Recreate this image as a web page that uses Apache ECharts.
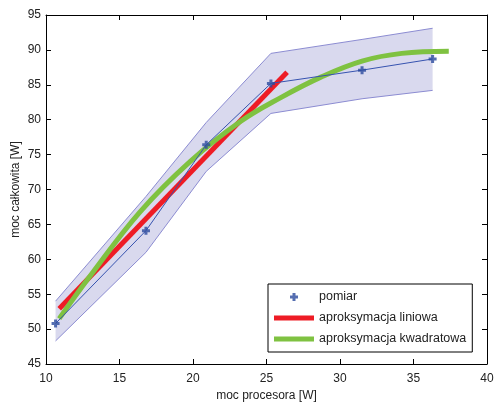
<!DOCTYPE html>
<html>
<head>
<meta charset="utf-8">
<script src="https://cdn.jsdelivr.net/npm/echarts@6/dist/echarts.min.js"></script>
<style>
html,body{margin:0;padding:0;background:#fff;}
#c{width:494px;height:403px;}
</style>
</head>
<body>
<div id="c"></div>
<script>
// measured points
var pomX = [10.65, 16.8, 20.9, 25.3, 31.5, 36.3];
var pomY = [50.8, 64.1, 76.4, 85.2, 87.1, 88.7];
// uncertainty band
var bandUpper = [54.0, 69.0, 79.6, 89.5, 91.5, 93.1];
var bandLower = [48.3, 61.0, 72.6, 80.9, 83.0, 84.2];
// linear approximation
var linX = [10.9, 26.4];
var linY = [52.9, 86.8];
// quadratic approximation
var quadX = [10.9, 13.0, 16.4, 19.8, 23.2, 26.0, 28.7, 31.5, 34.2, 37.4];
var quadY = [51.5, 57.6, 66.8, 74.0, 79.7, 83.2, 86.1, 88.4, 89.5, 89.8];
// axes
var xMin = 10, xMax = 40, xStep = 5;
var yMin = 45, yMax = 95, yStep = 5;

function pairs(xs, ys){ return xs.map(function(x,i){ return [x, ys[i]]; }); }

var plusPath = 'path://M2.5,0h3v2.5h2.5v3h-2.5v2.5h-3v-2.5h-2.5v-3h2.5z';
var barIcon = 'path://M0,0h40v5h-40z';
var font = '"Liberation Sans", Arial, sans-serif';
var tc = '#222';

// band polygon: upper along x, then lower back
var bandPoly = pomX.map(function(x,i){ return [x, bandUpper[i]]; })
  .concat(pomX.slice().reverse().map(function(x,j){ var i = pomX.length-1-j; return [x, bandLower[i]]; }));

var chart = echarts.init(document.getElementById('c'), null, {renderer:'canvas'});
var axisCommon = {
  axisLine:{show:true, onZero:false, lineStyle:{color:'#000', width:1}},
  axisTick:{show:true, inside:true, length:5, lineStyle:{color:'#000'}},
  splitLine:{show:false}
};
chart.setOption({
  animation:false,
  backgroundColor:'#fff',
  grid:{left:46, right:7, top:15, bottom:39, containLabel:false, outerBoundsMode:'none'},
  xAxis:[
    Object.assign({type:'value', min:xMin, max:xMax, interval:xStep, position:'bottom',
      name:'moc procesora [W]', nameLocation:'middle', nameGap:26, nameMoveOverlap:false,
      nameTextStyle:{fontFamily:font, fontSize:12, color:tc},
      axisLabel:{fontFamily:font, fontSize:12, color:tc, margin:9}}, axisCommon),
    Object.assign({type:'value', min:xMin, max:xMax, interval:xStep, position:'top',
      axisLabel:{show:false}}, axisCommon)
  ],
  yAxis:[
    Object.assign({type:'value', min:yMin, max:yMax, interval:yStep, position:'left',
      name:'moc całkowita [W]', nameLocation:'middle', nameGap:24, nameMoveOverlap:false,
      nameTextStyle:{fontFamily:font, fontSize:12, color:tc},
      axisLabel:{fontFamily:font, fontSize:12, color:tc, margin:5}}, axisCommon),
    Object.assign({type:'value', min:yMin, max:yMax, interval:yStep, position:'right',
      axisLabel:{show:false}}, axisCommon)
  ],
  legend:{
    left:268, top:284, orient:'vertical', width:205,
    padding:[6,6,6,6], itemGap:7, itemWidth:40, itemHeight:8,
    borderColor:'#000', borderWidth:1, backgroundColor:'#fff', borderRadius:0,
    textStyle:{fontFamily:font, fontSize:12.5, color:tc, lineHeight:14},
    data:[
      {name:'pomiar', icon:plusPath},
      {name:'aproksymacja liniowa', icon:barIcon},
      {name:'aproksymacja kwadratowa', icon:barIcon}
    ]
  },
  series:[
    {name:'band', type:'custom', silent:true, z:1,
     data:[0],
     renderItem:function(params, api){
       var pts = bandPoly.map(function(r){ return api.coord(r); });
       return {type:'polygon', shape:{points:pts},
               style:{fill:'#d9d9ee', stroke:null}};
     }},
    {name:'bandLow', type:'line', data:pairs(pomX, bandLower),
     symbol:'none', lineStyle:{color:'#8c8cd2', width:1}, silent:true, z:2},
    {name:'bandHigh', type:'line', data:pairs(pomX, bandUpper),
     symbol:'none', lineStyle:{color:'#8c8cd2', width:1}, silent:true, z:2},
    {name:'aproksymacja liniowa', type:'line', data:pairs(linX, linY), symbol:'none',
     lineStyle:{color:'#ee1c25', width:5}, itemStyle:{color:'#ee1c25'}, z:3},
    {name:'aproksymacja kwadratowa', type:'line', data:pairs(quadX, quadY), symbol:'none',
     smooth:0.4, lineStyle:{color:'#7fc241', width:5}, itemStyle:{color:'#7fc241'}, z:4},
    {name:'pomiarLine', type:'line', data:pairs(pomX, pomY), symbol:'none',
     lineStyle:{color:'#3653b0', width:1}, z:5},
    {name:'pomiar', type:'scatter', data:pairs(pomX, pomY), symbol:plusPath, symbolSize:8,
     itemStyle:{color:'#2a4a9e'}, z:6}
  ]
});
</script>
</body>
</html>
